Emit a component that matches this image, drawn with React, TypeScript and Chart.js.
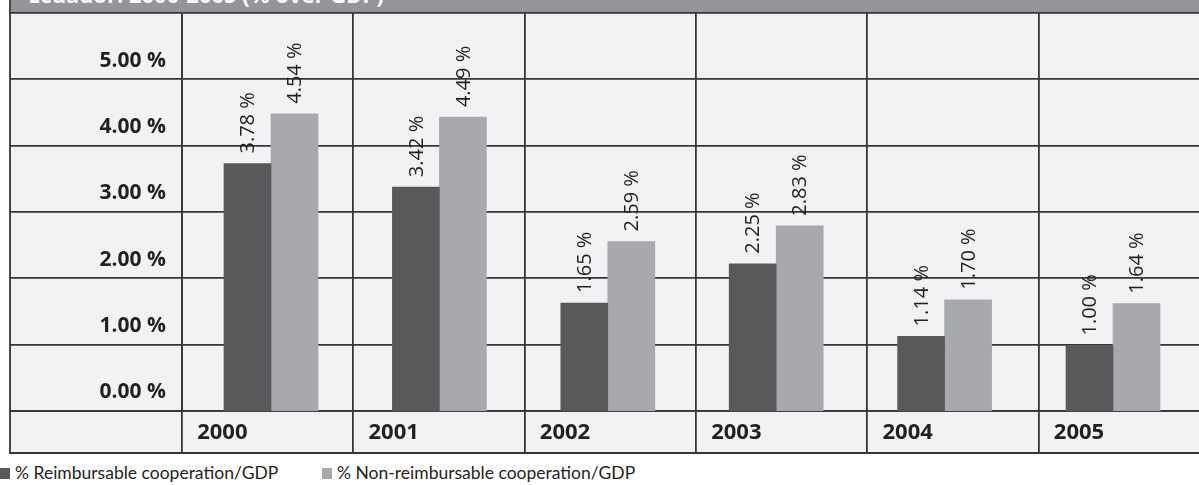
import React, { useEffect, useRef } from "react";
import { Chart, registerables } from "chart.js";

Chart.register(...registerables);

const TITLE = "Ecuador: 2000-2005 (% over GDP)";
const YEARS = ["2000", "2001", "2002", "2003", "2004", "2005"];
const REIMBURSABLE = [3.78, 3.42, 1.65, 2.25, 1.14, 1.0];
const NON_REIMBURSABLE = [4.54, 4.49, 2.59, 2.83, 1.7, 1.64];
const SERIES_LABELS = ["% Reimbursable cooperation/GDP", "% Non-reimbursable cooperation/GDP"];
const SERIES_COLORS = ["#58595b", "#a7a9ac"];
const Y_TICKS = [0, 1, 2, 3, 4, 5];

const LINE = "#363638";
const CELL_BG = "#f1f2f4";
const TEXT = "#231f20";
const FONT = "'Open Sans', 'Noto Sans', sans-serif";
const LEGEND_FONT = "Lato, 'Open Sans', sans-serif";
const LEGEND_LEFT = [0, 322];

const W = 1212;
const H = 456;

const tablePlugin = {
  id: "tablePlugin",
  beforeDraw(chart: any) {
    const { ctx, chartArea } = chart;
    const bottom = chartArea.bottom + 42;
    ctx.save();
    ctx.fillStyle = CELL_BG;
    ctx.fillRect(10, chartArea.top, chartArea.right - 10, bottom - chartArea.top);
    ctx.restore();
  },
  afterDraw(chart: any) {
    const { ctx, chartArea } = chart;
    const bottom = chartArea.bottom + 42;
    ctx.save();
    ctx.strokeStyle = LINE;
    ctx.lineWidth = 1.8;
    ctx.beginPath();
    ctx.moveTo(10, 0);
    ctx.lineTo(10, bottom);
    ctx.lineTo(chartArea.right, bottom);
    ctx.moveTo(10, chartArea.bottom);
    ctx.lineTo(chartArea.left, chartArea.bottom);
    ctx.stroke();
    ctx.restore();
  },
};

const valueLabelPlugin = {
  id: "valueLabelPlugin",
  afterDatasetsDraw(chart: any) {
    const { ctx } = chart;
    ctx.save();
    ctx.fillStyle = TEXT;
    ctx.font = `20px ${FONT}`;
    ctx.textAlign = "left";
    ctx.textBaseline = "middle";
    chart.data.datasets.forEach((ds: any, di: number) => {
      const meta = chart.getDatasetMeta(di);
      meta.data.forEach((el: any, i: number) => {
        const v = ds.data[i].y as number;
        ctx.save();
        ctx.translate(el.x + 1, el.y - 10);
        ctx.rotate(-Math.PI / 2);
        ctx.fillText(`${v.toFixed(2)} %`, 0, 0);
        ctx.restore();
      });
    });
    ctx.restore();
  },
};

function ChartCanvas() {
  const ref = useRef<HTMLCanvasElement | null>(null);
  useEffect(() => {
    if (!ref.current) return;
    const chart = new Chart(ref.current, {
      type: "bar",
      data: {
        labels: YEARS,
        datasets: [
          {
            label: SERIES_LABELS[0],
            data: REIMBURSABLE.map((v, i) => ({ x: i, y: v })),
            backgroundColor: SERIES_COLORS[0],
            xAxisID: "xb",
            yAxisID: "yb",
            barThickness: 47,
          },
          {
            label: SERIES_LABELS[1],
            data: NON_REIMBURSABLE.map((v, i) => ({ x: i, y: v })),
            backgroundColor: SERIES_COLORS[1],
            xAxisID: "xb",
            yAxisID: "yb",
            barThickness: 47,
          },
        ],
      },
      options: {
        animation: false,
        responsive: false,
        devicePixelRatio: 1,
        layout: { padding: { left: 10, top: 13, right: 2, bottom: 3 } },
        plugins: { legend: { display: false }, tooltip: { enabled: false }, title: { display: false } },
        scales: {
          x: {
            type: "category",
            position: "bottom",
            offset: true,
            grid: {
              offset: true,
              color: LINE,
              lineWidth: 1.8,
              drawTicks: true,
              tickLength: 42,
              tickColor: LINE,
              tickWidth: 1.8,
            },
            border: { display: true, color: LINE, width: 1.8 },
            ticks: {
              align: "start",
              labelOffset: -70.5,
              padding: -33,
              color: TEXT,
              font: { family: FONT, size: 22, weight: "bold" },
              maxRotation: 0,
              autoSkip: false,
            },
            afterFit(scale: any) {
              scale.height = 42;
            },
          },
          y: {
            type: "linear",
            position: "left",
            min: 0,
            max: 6,
            grid: {
              color: LINE,
              lineWidth: 1.8,
              drawTicks: true,
              tickLength: 172,
              tickColor: LINE,
              tickWidth: 1.8,
            },
            border: { display: true, color: LINE, width: 1.8 },
            ticks: {
              stepSize: 1,
              labelOffset: -18.5,
              padding: -156,
              color: TEXT,
              font: { family: FONT, size: 21, weight: "bold" },
              callback: (v: any) => (Y_TICKS.includes(Number(v)) ? `${Number(v).toFixed(2)} %` : ""),
            },
            afterFit(scale: any) {
              scale.width = 172;
            },
          },
          xb: {
            type: "linear",
            display: false,
            offset: false,
            min: -0.5285,
            max: 5.576,
          },
          yb: {
            type: "linear",
            display: false,
            min: 0,
            max: 6.08,
          },
        },
      },
      plugins: [tablePlugin, valueLabelPlugin],
    } as any);
    return () => chart.destroy();
  }, []);
  return <canvas ref={ref} width={W} height={H} style={{ display: "block", width: W, height: H }} />;
}

export default function App() {
  return (
    <div
      style={{
        position: "absolute",
        left: 0,
        top: 0,
        width: 1199,
        height: 485,
        overflow: "hidden",
        background: "#ffffff",
        fontFamily: FONT,
      }}
    >
      <ChartCanvas />
      <div
        style={{
          position: "absolute",
          left: 11,
          top: 0,
          width: 1200,
          height: 12,
          background: "#939598",
          overflow: "hidden",
        }}
      >
        <div
          style={{
            position: "absolute",
            left: 17,
            top: -17,
            fontSize: 22,
            lineHeight: "22px",
            fontWeight: 700,
            color: "#ffffff",
            whiteSpace: "nowrap",
          }}
        >
          {TITLE}
        </div>
      </div>
      {SERIES_LABELS.map((label, i) => (
        <div
          key={label}
          style={{
            position: "absolute",
            left: LEGEND_LEFT[i],
            top: 462,
            display: "flex",
            alignItems: "center",
            fontFamily: LEGEND_FONT,
            fontSize: 17.5,
            lineHeight: "22px",
            color: TEXT,
            whiteSpace: "nowrap",
          }}
        >
          <span style={{ display: "inline-block", width: 10, height: 11, background: SERIES_COLORS[i], marginRight: 5 }} />
          <span>{label}</span>
        </div>
      ))}
    </div>
  );
}
